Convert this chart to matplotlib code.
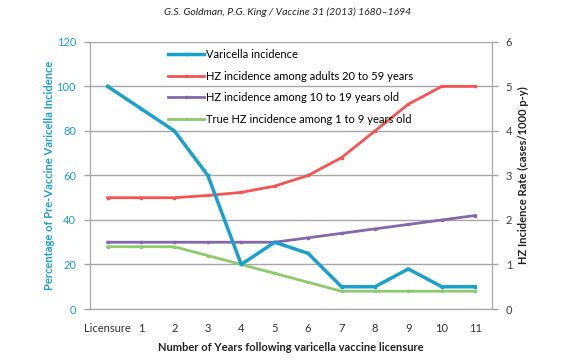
import matplotlib
matplotlib.use("Agg")
import matplotlib.pyplot as plt

plt.rcParams['font.family'] = ['Lato', 'DejaVu Sans']

categories = ['Licensure', '1', '2', '3', '4', '5', '6', '7', '8', '9', '10', '11']
varicella = [100, 90, 80, 60, 20, 30, 25, 10, 10, 18, 10, 10]
hz_adults = [2.5, 2.5, 2.5, 2.55, 2.62, 2.76, 3.0, 3.4, 4.0, 4.6, 5.0, 5.0]
hz_10_19 = [1.5, 1.5, 1.5, 1.5, 1.5, 1.5, 1.6, 1.7, 1.8, 1.9, 2.0, 2.1]
hz_1_9 = [1.4, 1.4, 1.4, 1.2, 1.0, 0.8, 0.6, 0.4, 0.4, 0.4, 0.4, 0.4]

c_var = '#1aa0cc'
c_red = '#f55453'
c_pur = '#8368aa'
c_grn = '#8ecb6c'
grid_c = '#a6a6a6'

fig = plt.figure(figsize=(5.76, 3.61), dpi=100)
ax = fig.add_axes([0.156, 0.144, 0.698, 0.740])
ax2 = ax.twinx()

x = list(range(len(categories)))

ax.set_ylim(0, 120)
ax.set_yticks(range(0, 121, 20))
ax2.set_ylim(0, 6)
ax2.set_yticks(range(0, 7))
ax.set_xlim(-0.53, 11.5)
ax.set_xticks(x)
ax.set_xticklabels(categories)

ax.yaxis.grid(True, color=grid_c, linewidth=1)
ax.set_axisbelow(True)

ms = 1.6
l2, = ax2.plot(x, hz_adults, color=c_red, lw=2, marker='s', ms=ms, label='HZ incidence among adults 20 to 59 years')
l3, = ax2.plot(x, hz_10_19, color=c_pur, lw=2, marker='s', ms=ms, label='HZ incidence among 10 to 19 years old')
l4, = ax2.plot(x, hz_1_9, color=c_grn, lw=2, marker='s', ms=ms, label='True HZ incidence among 1 to 9 years old')
l1, = ax2.plot(x, [v / 20 for v in varicella], color=c_var, lw=2.5, marker='s', ms=ms, label='Varicella incidence')

for a in (ax, ax2):
    for s in a.spines.values():
        s.set_color(grid_c)
    a.spines['top'].set_visible(False)

ax.tick_params(axis='y', colors=c_var, labelsize=8, length=4, width=1, pad=6)
ax.tick_params(axis='y', which='both', color=grid_c)
ax.tick_params(axis='x', length=0, labelsize=8, pad=10, labelcolor='#333333')
ax2.tick_params(axis='y', labelsize=8, length=4, width=1, color=grid_c, labelcolor='#404040', pad=6)

ax.set_ylabel('Percentage of Pre-Vaccine Varicella Incidence', color=c_var, fontsize=8, fontweight='bold', labelpad=1)
ax2.set_ylabel('HZ Incidence Rate (cases/1000 p-y)', color='#222222', fontsize=8, fontweight='bold', labelpad=4)
ax.set_xlabel('Number of Years following varicella vaccine licensure', fontsize=8, fontweight='bold', color='#222222', labelpad=6)

leg = ax2.legend(handles=[l1, l2, l3, l4], loc='upper left', bbox_to_anchor=(0.17, 1.01),
                 frameon=False, fontsize=8, labelspacing=0.95, handlelength=3.2, handletextpad=0.2)

fig.text(0.5, 0.965, 'G.S. Goldman, P.G. King / Vaccine 31 (2013) 1680\u20131694', ha='center', va='center',
         fontsize=7.5, style='italic', color='#222222')

fig.savefig('out.png', dpi=100)
